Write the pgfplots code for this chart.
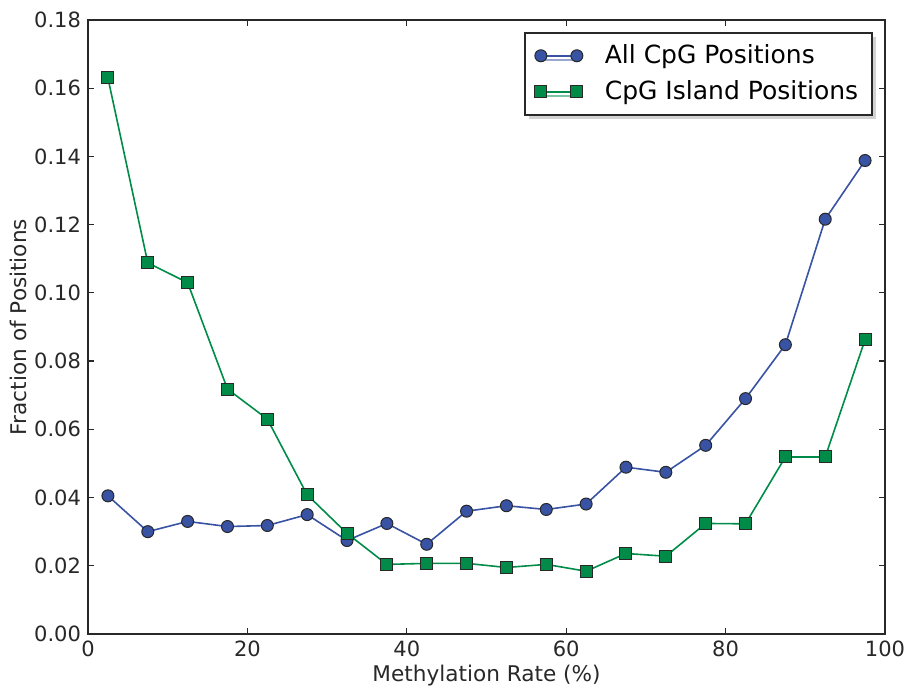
\documentclass[border=0pt]{standalone}
\usepackage{fontspec}
\setmainfont{DejaVu Sans}
\usepackage{pgfplots}
\pgfplotsset{compat=1.18}
\usetikzlibrary{shadows}

\definecolor{allblue}{RGB}{56,82,164}
\definecolor{islgreen}{RGB}{0,140,72}
\definecolor{axgray}{RGB}{40,40,40}

\pgfplotstableread{
x    allcpg  island
2.5  0.0405  0.1630
7.5  0.0300  0.1088
12.5 0.0330  0.1030
17.5 0.0315  0.0718
22.5 0.0318  0.0630
27.5 0.0350  0.0408
32.5 0.0274  0.0295
37.5 0.0324  0.0204
42.5 0.0263  0.0207
47.5 0.0360  0.0207
52.5 0.0376  0.0195
57.5 0.0365  0.0204
62.5 0.0381  0.0184
67.5 0.0489  0.0236
72.5 0.0474  0.0228
77.5 0.0553  0.0324
82.5 0.0690  0.0323
87.5 0.0848  0.0519
92.5 0.1216  0.0519
97.5 0.1388  0.0863
}\datatable

\begin{document}
\begin{tikzpicture}
  \begin{axis}[
    scale only axis,
    width=398.5pt,
    height=307pt,
    xmin=0, xmax=100,
    ymin=0, ymax=0.18,
    xtick={0,20,40,60,80,100},
    ytick={0,0.02,...,0.18},
    yticklabel style={/pgf/number format/.cd,fixed,fixed zerofill,precision=2},
    /pgf/number format/assume math mode=true,
    scaled y ticks=false,
    tick label style={font=\fontsize{10.5}{12}\selectfont, text=axgray},
    label style={font=\fontsize{10.8}{13}\selectfont, text=axgray},
    xlabel={Methylation Rate (\%)},
    ylabel={Fraction of Positions},
    xlabel style={yshift=3pt},
    ylabel style={yshift=-3pt},
    axis line style={axgray, line width=0.9pt},
    major tick style={axgray, line width=0.6pt},
    major tick length=3pt,
    legend cell align=left,
    legend style={at={(1,1)}, xshift=-6pt, yshift=-6pt, anchor=north east,
      font=\fontsize{12.5}{15}\selectfont, draw=axgray, line width=0.8pt,
      fill=white, drop shadow={shadow xshift=2pt, shadow yshift=-2pt, fill=gray!70},
      inner xsep=5pt, inner ysep=4pt, row sep=3pt,
      /tikz/every odd column/.append style={column sep=9pt}},
    legend image code/.code={\draw[#1] plot coordinates {(0pt,0pt) (18pt,0pt)};},
  ]
    \addplot[color=allblue, line width=0.8pt, mark=*,
      mark options={fill=allblue, draw=axgray, line width=0.5pt}, mark size=3pt]
      table[x=x, y=allcpg] {\datatable};
    \addlegendentry{All CpG Positions}
    \addplot[color=islgreen, line width=0.8pt, mark=square*,
      mark options={fill=islgreen, draw=axgray, line width=0.5pt}, mark size=3pt]
      table[x=x, y=island] {\datatable};
    \addlegendentry{CpG Island Positions}
  \end{axis}
  \pgfresetboundingbox
  \path ([xshift=-44pt, yshift=-27pt]current axis.south west)
    rectangle ([xshift=12.5pt, yshift=10pt]current axis.north east);
\end{tikzpicture}
\end{document}
